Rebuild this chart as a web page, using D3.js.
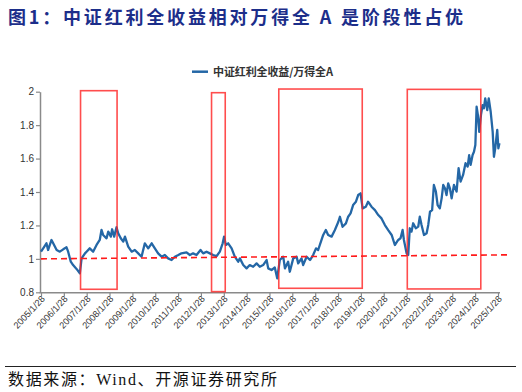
<!DOCTYPE html>
<html><head><meta charset="utf-8">
<script src="https://cdn.jsdelivr.net/npm/d3@7"></script>
<style>body{margin:0;background:#fff}svg{display:block}</style>
</head><body>
<svg id="c" width="522" height="392"></svg>
<script>
const titleText = "图1：中证红利全收益相对万得全 A 是阶段性占优";
const legendLabel = "中证红利全收益/万得全A";
const sourceText = "数据来源：Wind、开源证券研究所";
const yTicks = [0.8, 1, 1.2, 1.4, 1.6, 1.8, 2];
const xTickLabels = ["2005/1/28","2006/1/28","2007/1/28","2008/1/28","2009/1/28","2010/1/28","2011/1/28","2012/1/28","2013/1/28","2014/1/28","2015/1/28","2016/1/28","2017/1/28","2018/1/28","2019/1/28","2020/1/28","2021/1/28","2022/1/28","2023/1/28","2024/1/28","2025/1/28"];
const dates = ["2005-01-28","2005-03-04","2005-04-25","2005-05-21","2005-07-15","2005-08-11","2005-10-05","2005-11-25","2006-01-18","2006-03-12","2006-04-07","2006-05-19","2006-06-25","2006-08-19","2006-10-11","2006-11-08","2007-01-01","2007-01-26","2007-03-18","2007-05-11","2007-07-05","2007-08-25","2007-09-22","2007-10-18","2007-12-12","2008-01-08","2008-02-19","2008-03-10","2008-04-12","2008-05-19","2008-06-15","2008-07-26","2008-09-04","2008-10-01","2008-11-22","2009-01-16","2009-03-08","2009-05-01","2009-06-23","2009-08-15","2009-10-08","2009-12-02","2010-01-22","2010-03-15","2010-05-09","2010-07-01","2010-08-22","2010-10-16","2010-12-08","2011-02-01","2011-03-23","2011-06-12","2011-08-05","2011-09-25","2011-11-19","2012-01-22","2012-03-04","2012-04-27","2012-06-19","2012-08-11","2012-10-06","2012-11-26","2013-01-10","2013-02-01","2013-03-02","2013-04-08","2013-06-02","2013-07-23","2013-09-15","2013-10-12","2013-12-05","2014-01-27","2014-03-19","2014-05-12","2014-07-06","2014-08-26","2014-10-19","2014-12-13","2015-01-08","2015-03-02","2015-04-23","2015-06-01","2015-07-12","2015-09-05","2015-10-02","2015-11-22","2015-12-19","2016-02-12","2016-04-06","2016-05-01","2016-06-23","2016-07-19","2016-09-13","2016-11-06","2016-12-26","2017-02-10","2017-03-16","2017-05-09","2017-06-05","2017-07-17","2017-08-23","2017-10-17","2017-12-09","2018-02-02","2018-02-27","2018-04-10","2018-06-03","2018-07-09","2018-08-16","2018-09-26","2018-11-10","2018-12-16","2019-01-23","2019-02-25","2019-04-17","2019-05-23","2019-07-17","2019-09-10","2019-11-02","2019-12-24","2020-02-16","2020-04-09","2020-06-03","2020-07-24","2020-09-16","2020-10-23","2020-11-25","2020-12-16","2021-01-28","2021-02-23","2021-03-20","2021-04-17","2021-05-13","2021-06-24","2021-08-02","2021-08-27","2021-09-24","2021-11-02","2021-12-14","2022-01-09","2022-02-06","2022-03-12","2022-04-09","2022-05-11","2022-06-08","2022-07-13","2022-08-11","2022-09-06","2022-10-03","2022-10-28","2022-11-24","2022-12-21","2023-01-18","2023-02-24","2023-04-07","2023-05-09","2023-06-10","2023-07-20","2023-08-28","2023-10-01","2023-10-25","2023-11-17","2023-12-19","2024-01-10","2024-02-01","2024-02-21","2024-03-12","2024-04-03","2024-05-01","2024-05-26","2024-06-16","2024-07-08","2024-08-09","2024-09-02","2024-10-03","2024-11-04","2024-11-24","2024-12-15","2025-01-16","2025-02-03","2025-02-20"];
const values = [1.043,1.063,1.093,1.053,1.113,1.093,1.053,1.043,1.057,1.069,1.043,0.983,0.963,0.940,0.914,1.003,1.033,1.043,1.063,1.043,1.083,1.113,1.173,1.143,1.123,1.163,1.133,1.177,1.133,1.189,1.153,1.123,1.103,1.133,1.073,1.043,1.053,1.033,1.013,1.093,1.063,1.093,1.063,1.033,1.013,1.023,1.003,0.993,1.013,1.023,1.033,1.039,1.023,1.033,1.023,1.053,1.033,1.043,1.033,1.023,1.017,1.043,1.093,1.133,1.083,1.093,1.063,1.013,0.983,1.003,0.963,0.943,0.963,0.953,0.973,0.953,0.963,0.993,0.943,0.933,0.949,0.884,0.993,1.013,0.943,0.983,0.923,1.003,1.013,0.973,1.003,0.963,1.013,0.993,1.023,1.063,1.053,1.113,1.143,1.173,1.143,1.133,1.173,1.222,1.252,1.192,1.212,1.252,1.272,1.322,1.342,1.382,1.392,1.302,1.312,1.342,1.312,1.292,1.262,1.242,1.202,1.172,1.143,1.083,1.113,1.123,1.173,1.113,1.033,1.023,1.183,1.163,1.213,1.183,1.193,1.252,1.203,1.143,1.153,1.203,1.282,1.292,1.442,1.402,1.322,1.302,1.362,1.442,1.422,1.382,1.452,1.422,1.362,1.442,1.402,1.542,1.462,1.502,1.572,1.552,1.621,1.562,1.621,1.641,1.681,1.910,1.861,1.760,1.861,1.920,1.900,1.960,1.890,1.960,1.880,1.760,1.611,1.661,1.771,1.661,1.691];
const trendDates = ["2005-01-28","2025-07-01"];
const trendValues = [1.0, 1.024];
const boxStart = ["2006-10-22","2012-07-16","2015-06-26","2021-02-08"];
const boxEnd   = ["2008-05-28","2013-02-20","2019-02-19","2024-04-28"];
const boxTop   = [2.006, 1.994, 2.016, 2.014];
const boxBottom= [0.818, 0.804, 0.824, 0.820];

const parse = d3.timeParse("%Y-%m-%d");
const parseTick = d3.timeParse("%Y/%m/%d");
const svg = d3.select("#c");
const x = d3.scaleTime().domain([parseTick(xTickLabels[0]), parseTick(xTickLabels[xTickLabels.length-1])]).range([41, 498]);
const y = d3.scaleLinear().domain([0.8, 2]).range([292.3, 91.7]);

// title
svg.append("text").attr("x", 8).attr("y", 24)
  .attr("font-family", "'Noto Sans CJK SC', sans-serif").attr("font-weight", 700)
  .attr("font-size", 18).attr("fill", "#1c2e8a")
  .attr("textLength", 455).attr("lengthAdjust", "spacing").text(titleText);

// axes
const axisColor = "#8a8a8a";
const yAxis = svg.append("g").attr("transform", "translate(40,0)")
  .call(d3.axisLeft(y).tickValues(yTicks).tickSize(4).tickSizeOuter(0).tickFormat(d => String(+d.toFixed(1))));
yAxis.select(".domain").attr("stroke", axisColor).attr("stroke-width", 1.5);
yAxis.selectAll(".tick line").attr("stroke", axisColor).attr("stroke-width", 1.2);
yAxis.selectAll(".tick text").attr("font-family", "'Liberation Sans', Arial, sans-serif").attr("font-size", 10).attr("fill", "#333").attr("x", -6);

const xAxis = svg.append("g").attr("transform", "translate(0,292.3)")
  .call(d3.axisBottom(x).tickValues(xTickLabels.map(parseTick)).tickSize(4).tickSizeOuter(0)
    .tickFormat((d, i) => xTickLabels[i]));
xAxis.select(".domain").attr("stroke", axisColor).attr("stroke-width", 1.5).attr("d", "M39.5,0.5H500");
xAxis.selectAll(".tick line").attr("stroke", axisColor).attr("stroke-width", 1.2);
xAxis.selectAll(".tick text").attr("font-family", "'Liberation Sans', Arial, sans-serif").attr("font-size", 9.2).attr("fill", "#333")
  .attr("text-anchor", "end").attr("dy", 0).attr("y", 0)
  .attr("transform", "translate(4,7) rotate(-47)");

// series
const series = dates.map((d, i) => ({ d: parse(d), v: values[i] }));
svg.append("path").datum(series)
  .attr("fill", "none").attr("stroke", "#2467a6").attr("stroke-width", 2.3).attr("stroke-linejoin", "round")
  .attr("d", d3.line().x(p => x(p.d)).y(p => y(p.v)));

// trend dashed
const trend = trendDates.map((d, i) => ({ d: parse(d), v: trendValues[i] }));
svg.append("path").datum(trend)
  .attr("fill", "none").attr("stroke", "#ff1a1a").attr("stroke-width", 1.6).attr("stroke-dasharray", "6,4")
  .attr("d", d3.line().x(p => x(p.d)).y(p => y(p.v)));

// boxes
boxStart.forEach((s, i) => {
  const x0 = x(parse(s)), x1 = x(parse(boxEnd[i]));
  svg.append("rect").attr("x", x0).attr("y", y(boxTop[i]))
    .attr("width", x1 - x0).attr("height", y(boxBottom[i]) - y(boxTop[i]))
    .attr("fill", "none").attr("stroke", "#ff2020").attr("stroke-opacity", 0.8).attr("stroke-width", 1.6);
});

// legend
svg.append("line").attr("x1", 192).attr("x2", 208).attr("y1", 71.7).attr("y2", 71.7)
  .attr("stroke", "#2467a6").attr("stroke-width", 2.5);
svg.append("text").attr("x", 213).attr("y", 76)
  .attr("font-family", "'Noto Sans CJK SC', sans-serif").attr("font-weight", 700).attr("font-size", 11)
  .attr("fill", "#333").attr("textLength", 120).attr("lengthAdjust", "spacing").text(legendLabel);

// source
svg.append("line").attr("x1", 5).attr("x2", 516).attr("y1", 366.5).attr("y2", 366.5).attr("stroke", "#222").attr("stroke-width", 1);
svg.append("text").attr("x", 8).attr("y", 385)
  .attr("font-family", "'Liberation Serif', 'Noto Sans CJK SC', serif").attr("font-size", 16)
  .attr("fill", "#111").attr("textLength", 269).attr("lengthAdjust", "spacing").text(sourceText);
</script>
</body></html>
